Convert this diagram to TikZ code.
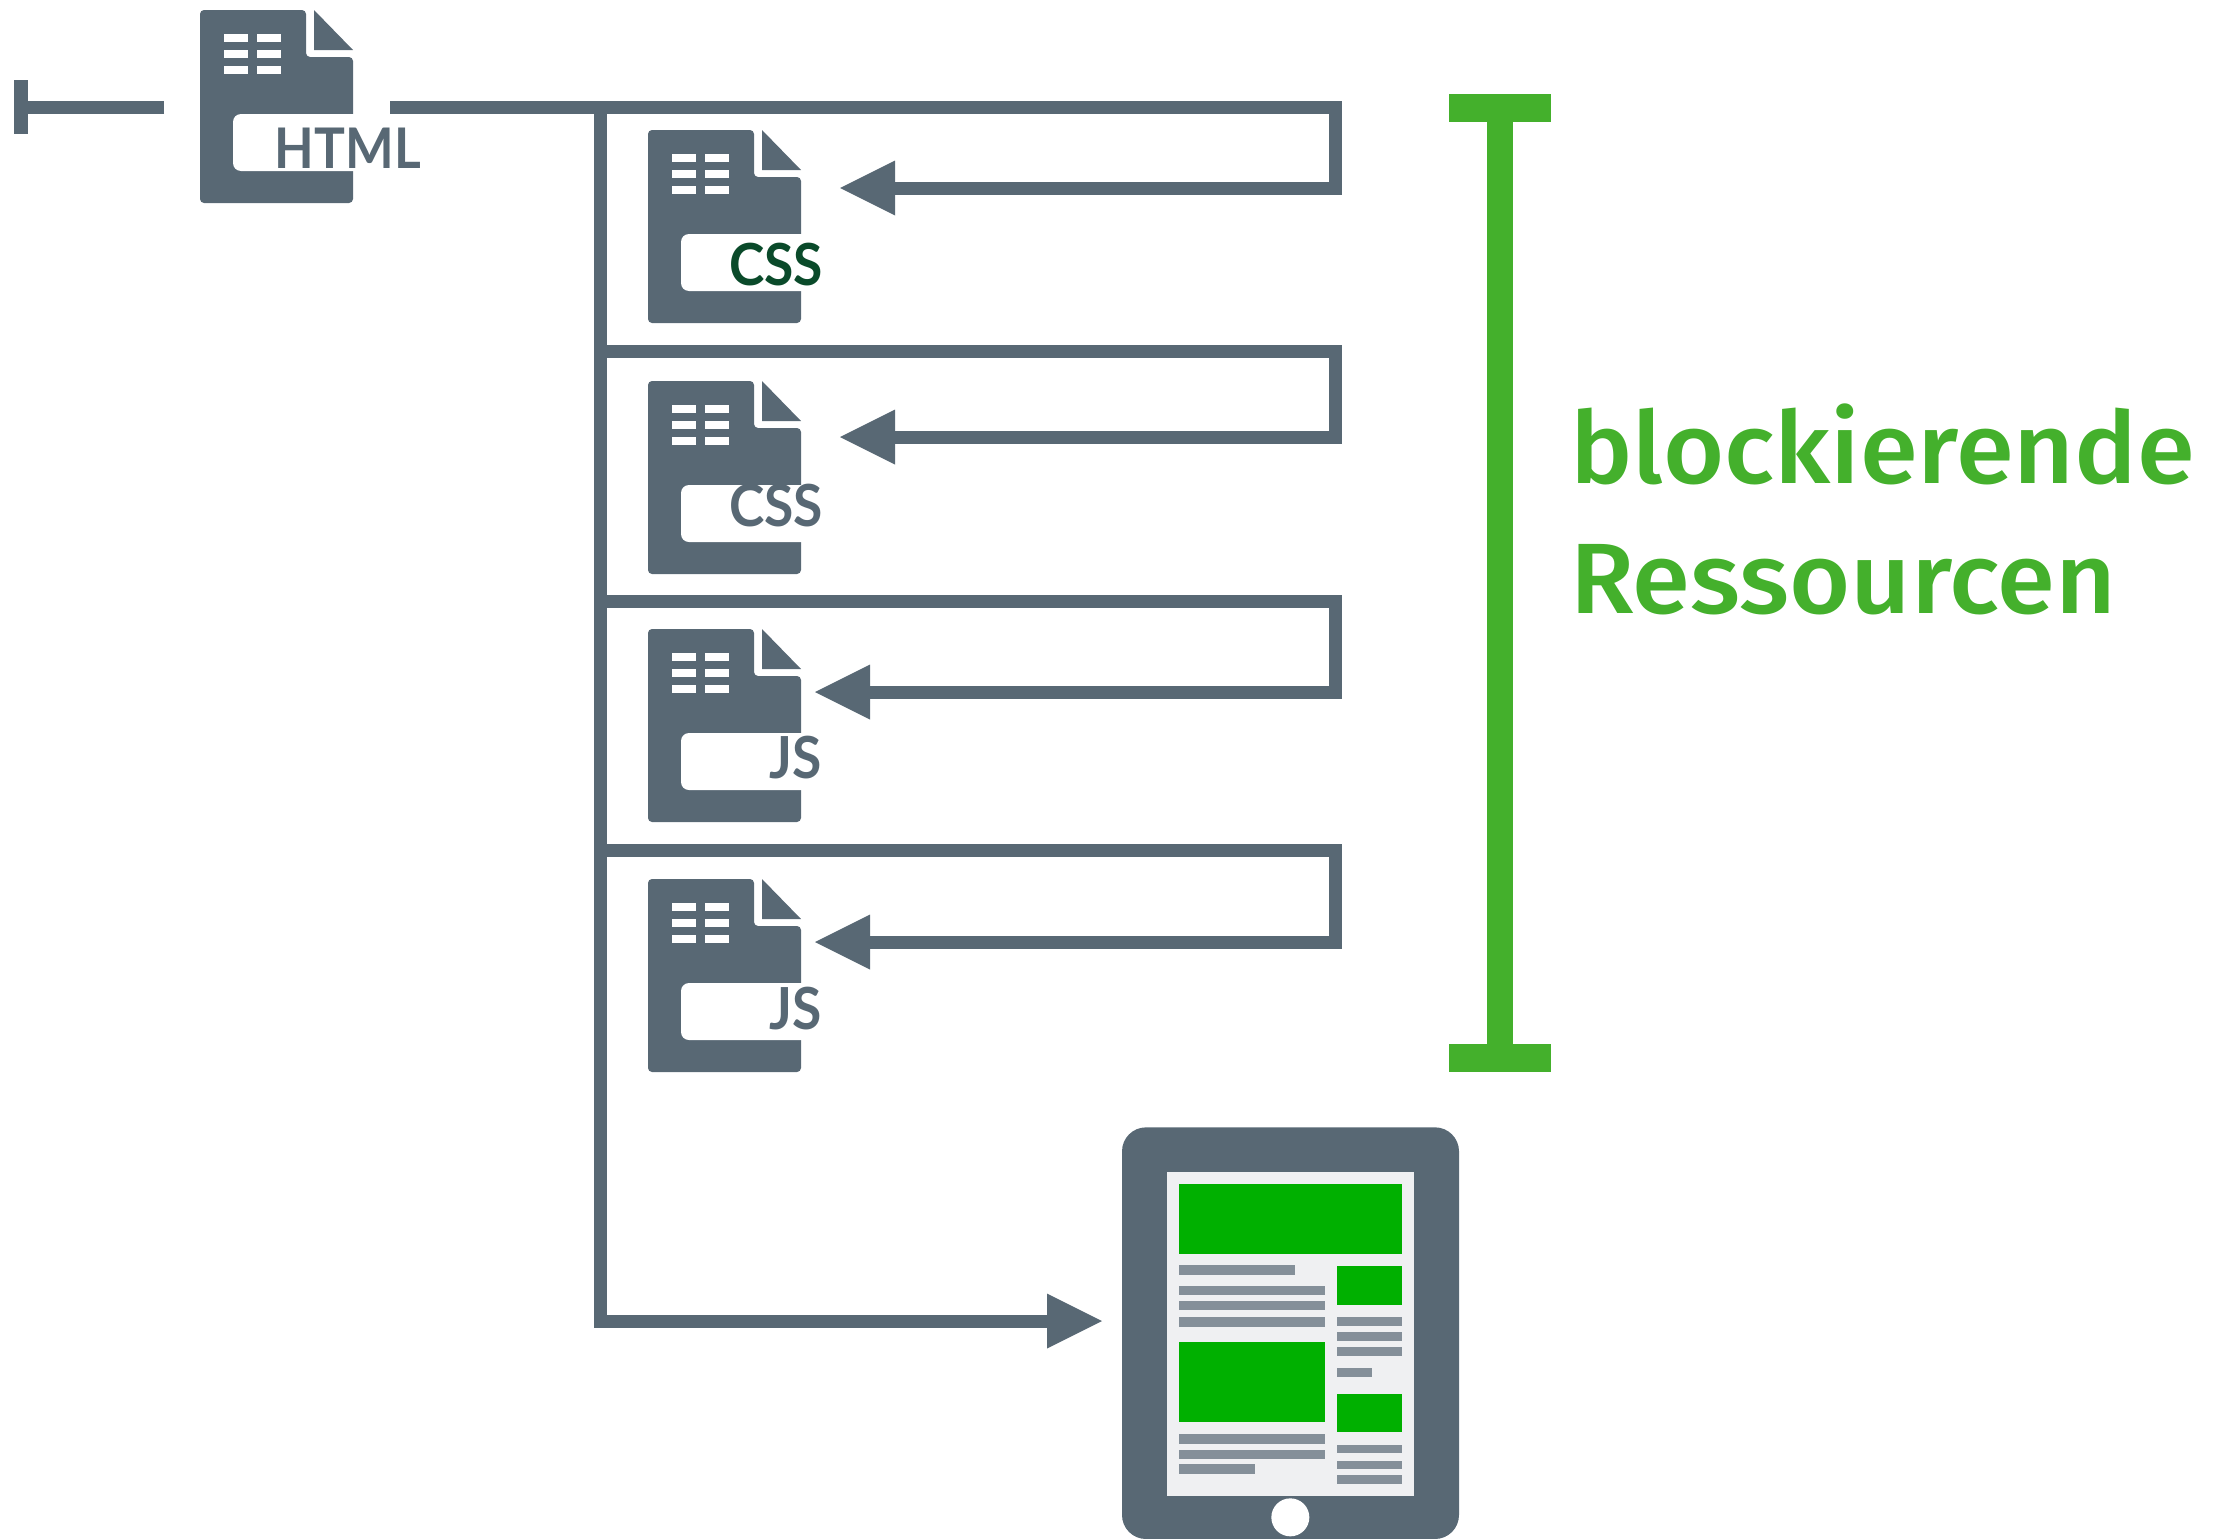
\documentclass[tikz,border=0pt]{standalone}
\usepackage{fontspec}
\setmainfont[FakeStretch=1.05]{Fira Sans Medium}
\newfontfamily\labelfont[FakeStretch=0.92]{Lato Bold}
\newfontfamily\cssfont[FakeStretch=0.92]{Lato Bold}
\usetikzlibrary{arrows.meta}
\definecolor{slate}{HTML}{586874}
\definecolor{barcol}{HTML}{848F99}
\definecolor{scr}{HTML}{EFF0F2}
\definecolor{grn}{HTML}{00B000}
\definecolor{lime}{HTML}{44B02C}
\definecolor{dkgreen}{HTML}{0A4A2A}
\tikzset{
  conn/.style={draw=slate,line width=13pt,miter limit=10,line join=miter},
  arr/.style={conn,-{Triangle[length=55pt,width=55pt,line width=0pt,fill=slate]}},
  doclabel/.style={inner sep=0pt,outer sep=0pt,anchor=base east,text=slate},
  htmlfont/.style={font=\labelfont\fontsize{56}{56}\selectfont},
  cssfontstyle/.style={font=\cssfont\fontsize{58}{58}\selectfont},
  side/.style={inner sep=0pt,outer sep=0pt,anchor=base west,text=lime,font=\fontsize{100}{100}\selectfont},
}
\newcommand{\docicon}[3]{%
  \begin{scope}[shift={(#2,#3)}]
    \fill[slate,rounded corners=4pt] (0,0) -- (106,0) -- (106,47) -- (153,47) -- (153,193) -- (0,193) -- cycle;
    \fill[slate] (114,0) -- (153,40) -- (114,40) -- cycle;
    \fill[white,rounded corners=8pt] (33,104) rectangle (180,161);
    \foreach \yy in {24,40,56} {
      \fill[white] (24,\yy) rectangle +(24,8);
      \fill[white] (57,\yy) rectangle +(24,8);
    }
    \coordinate (#1) at (153,96);
  \end{scope}}
\begin{document}
\begin{tikzpicture}[x=1pt,y=-1pt]
\useasboundingbox (0,0) rectangle (2227,1539);

% file icons
\docicon{html}{200}{10}
\docicon{cssa}{648}{130}
\docicon{cssb}{648}{381}
\docicon{jsa}{648}{629}
\docicon{jsb}{648}{879}
\node[doclabel,htmlfont] (lhtml) at (421,168) {HTML};
\node[doclabel,cssfontstyle,text=dkgreen] (lcssa) at (823,285) {CSS};
\node[doclabel,cssfontstyle] (lcssb) at (823,526) {CSS};
\node[doclabel,cssfontstyle] (ljsa) at (822,778) {JS};
\node[doclabel,cssfontstyle] (ljsb) at (822,1029) {JS};

% start marker
\coordinate (ms) at (164,107);
\coordinate (me) at (21,107);
\coordinate (mt) at (21,80);
\coordinate (mb) at (21,134);
\draw[conn] (ms) -- (me);
\draw[conn,line width=14pt] (mt) -- (mb);

% trunk
\coordinate (start) at (390,107);
\coordinate (top) at (600,107);
\coordinate (bot) at (600,1321);
\coordinate (r0) at (1335,107);
\coordinate (t1) at (600,351);
\coordinate (r1) at (1335,351);
\coordinate (t2) at (600,601);
\coordinate (r2) at (1335,601);
\coordinate (t3) at (600,850);
\coordinate (r3) at (1335,850);
\coordinate (a0) at (1335,188);
\coordinate (a1) at (1335,437);
\coordinate (a2) at (1335,692);
\coordinate (a3) at (1335,942);
\coordinate (tip0) at (840,188);
\coordinate (tip1) at (840,437);
\coordinate (tip2) at (815,692);
\coordinate (tip3) at (815,942);
\coordinate (tip4) at (1102,1321);
\draw[arr] (top) -- (bot) -- (tip4);
\draw[arr] (start) -- (r0) -- (a0) -- (tip0);
\draw[arr] (t1) -- (r1) -- (a1) -- (tip1);
\draw[arr] (t2) -- (r2) -- (a2) -- (tip2);
\draw[arr] (t3) -- (r3) -- (a3) -- (tip3);

% bracket
\fill[lime] (1449,94) rectangle (1551,122);
\fill[lime] (1449,1044) rectangle (1551,1072);
\fill[lime] (1487,122) rectangle (1513,1044);
\node[side] (blk) at (1570,483) {blockierende};
\node[side] (res) at (1570,613) {Ressourcen};

% tablet
\begin{scope}[shift={(1090,1110)},x=0.33333pt,y=-0.33333pt]
  \fill[slate,rounded corners=24pt] (96,52) rectangle (1107,1287);
  \fill[scr] (232,186) rectangle (971,1157);
  \foreach \xa/\ya/\xb/\yb in {266/222/937/432, 741/468/937/585, 266/697/705/937, 741/852/937/967}
    \fill[grn] (\xa,\ya) rectangle (\xb,\yb);
  \foreach \xa/\ya/\xb/\yb in {266/466/616/494, 266/527/705/554, 266/573/705/601, 266/621/705/650,
      266/973/705/1001, 266/1019/705/1046, 266/1063/495/1091,
      741/621/937/648, 741/666/937/692, 741/711/937/738, 741/773/845/801,
      741/1005/937/1029, 741/1052/937/1076, 741/1095/937/1123}
    \fill[barcol] (\xa,\ya) rectangle (\xb,\yb);
  \fill[white] (601,1222) circle (19pt);
\end{scope}
\end{tikzpicture}
\end{document}
